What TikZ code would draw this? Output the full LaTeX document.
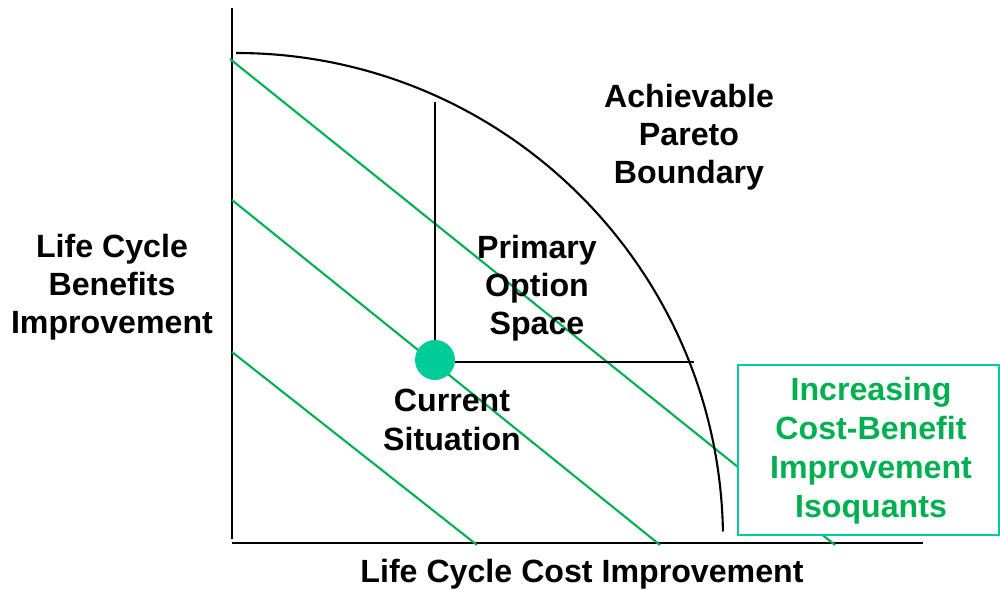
\documentclass[tikz,border=0pt]{standalone}
\usepackage{fontspec}
\setmainfont{Liberation Sans}
\definecolor{isogreen}{RGB}{0,176,80}
\definecolor{tealc}{RGB}{0,204,153}
\tikzset{
  lbl/.style={align=center, font=\fontsize{18.3}{21.8}\selectfont\bfseries, inner sep=0pt},
  axis/.style={line width=1.3pt, black},
  iso/.style={line width=1.2pt, isogreen},
  thinline/.style={line width=1.2pt, black},
}
\begin{document}
\begin{tikzpicture}[x=0.02cm, y=-0.02cm]
\useasboundingbox (0,0) rectangle (1000,590);
% axes
\coordinate (ytop) at (232,8);
\coordinate (ybot) at (232,539);
\coordinate (xl) at (232,543);
\coordinate (xr) at (923,543);
\draw[axis] (ytop) -- (ybot);
\draw[axis] (xl) -- (xr);
% isoquants
\coordinate (a1) at (230,59);  \coordinate (b1) at (835,545);
\coordinate (a2) at (232,200); \coordinate (b2) at (660,545);
\coordinate (a3) at (232,352); \coordinate (b3) at (477,545);
\draw[iso] (a1) -- (b1);
\draw[iso] (a2) -- (b2);
\draw[iso] (a3) -- (b3);
% Pareto boundary
\draw[thinline] (236,53) arc[start angle=90, end angle=1, x radius=487, y radius=-487];
% option space lines
\node[circle, fill=tealc, inner sep=0pt, minimum size=0.8cm] (cur) at (435,360) {};
\coordinate (vtop) at (435,102);
\coordinate (hend) at (694,362);
\draw[thinline] (vtop) -- (cur.north);
\draw[thinline] (cur.east |- hend) -- (hend);
% labels
\node[lbl] (pareto) at (689,137) {Achievable\\Pareto\\Boundary};
\node[lbl] (ylab) at (112,287) {Life Cycle\\Benefits\\Improvement};
\node[lbl] (pos) at (537,288) {Primary\\Option\\Space};
\node[lbl] (cs) at (452,420) {Current\\Situation};
\node[lbl] (xlab) at (582,574) {Life Cycle Cost Improvement};
% box
\node[draw=tealc, line width=1.4pt, fill=white, minimum width=5.22cm, minimum height=3.4cm, inner sep=0pt] (box) at (868.5,450) {};
\node[lbl, text=isogreen, font=\fontsize{18.3}{22.2}\selectfont\bfseries] (boxtxt) at (871,451) {Increasing\\Cost-Benefit\\Improvement\\Isoquants};
\end{tikzpicture}
\end{document}
